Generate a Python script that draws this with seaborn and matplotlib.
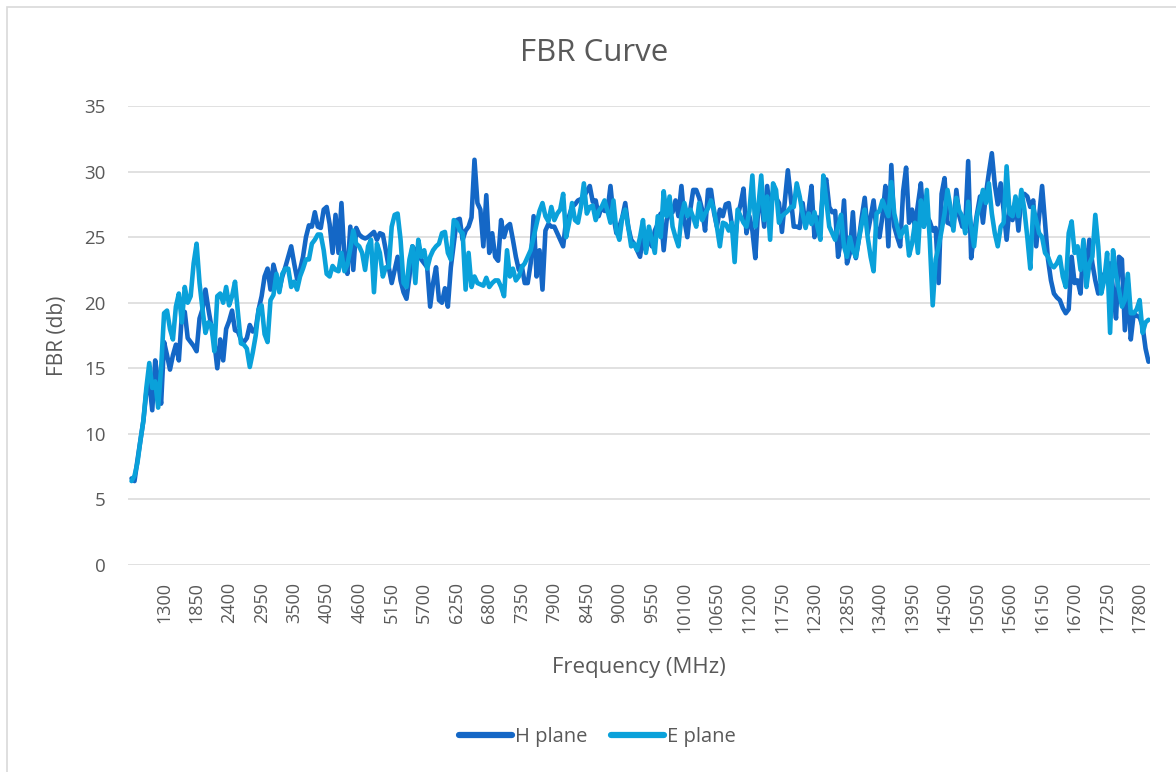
import numpy as np
import pandas as pd
import seaborn as sns
import matplotlib.pyplot as plt
from matplotlib.patches import Rectangle

# frequency categories (MHz), 50 MHz steps
freq = list(range(750, 18000, 50))

h_plane = [
    6.6, 6.4, 8.0, 9.5, 11.0, 13.2, 14.0, 11.8, 15.6, 14.0,
    12.3, 17.0, 16.0, 14.9, 16.0, 16.8, 15.6, 19.0, 19.3, 17.3,
    17.0, 16.7, 16.3, 18.8, 19.5, 21.0, 19.5, 18.2, 17.0, 15.0,
    17.2, 15.6, 18.0, 18.6, 19.4, 17.9, 17.8, 17.2, 17.0, 17.3,
    18.3, 17.8, 18.0, 19.5, 20.5, 22.0, 22.6, 21.0, 22.9, 22.0,
    21.0, 22.0, 22.7, 23.5, 24.3, 23.0, 21.8, 22.5, 23.5, 25.0,
    25.9, 25.8, 26.9, 25.8, 25.7, 27.1, 27.3, 26.0, 23.8, 26.7,
    23.8, 27.6, 23.5, 22.2, 25.8, 22.5, 25.7, 25.2, 25.0, 24.9,
    25.0, 25.2, 25.4, 24.8, 25.3, 25.2, 24.0, 22.7, 21.5, 22.5,
    23.5, 21.7, 20.8, 20.3, 22.0, 24.3, 24.0, 23.8, 23.3, 23.0,
    22.7, 19.7, 21.5, 22.7, 20.2, 20.0, 21.1, 19.7, 22.7, 24.5,
    26.3, 26.4, 24.8, 25.5, 25.8, 26.5, 30.9, 27.6, 27.1, 24.3,
    28.2, 23.8, 25.3, 23.5, 23.2, 26.3, 25.0, 25.8, 26.0, 24.8,
    23.5, 22.5, 22.8, 21.5, 21.5, 23.0, 26.6, 22.0, 24.0, 21.0,
    25.5, 26.0, 25.8, 25.8, 25.3, 24.8, 24.3, 26.3, 26.6, 27.3,
    27.5, 27.8, 27.9, 28.1, 28.5, 28.9, 27.7, 27.8, 26.6, 27.3,
    27.0, 27.0, 28.9, 26.6, 25.3, 25.8, 26.5, 27.6, 25.8, 24.8,
    24.5, 24.0, 23.5, 25.0, 24.0, 25.0, 24.3, 25.5, 26.0, 26.8,
    24.0, 26.3, 26.8, 26.9, 27.8, 26.6, 28.9, 26.3, 25.0, 27.1,
    28.6, 28.6, 28.0, 27.1, 25.5, 28.6, 28.6, 26.9, 25.8, 27.1,
    26.6, 27.5, 27.6, 26.0, 24.5, 26.6, 27.5, 28.7, 25.3, 26.6,
    25.5, 23.4, 27.3, 27.8, 25.8, 28.9, 27.0, 28.5, 28.0, 27.6,
    25.4, 27.8, 30.1, 28.0, 25.8, 25.8, 25.7, 27.6, 25.8, 27.0,
    28.9, 25.0, 26.5, 26.0, 28.9, 29.4, 27.3, 26.9, 27.0, 23.5,
    24.8, 27.8, 23.0, 23.8, 26.9, 23.4, 24.8, 26.5, 28.0, 25.3,
    26.5, 27.8, 25.5, 25.0, 26.6, 28.9, 24.3, 30.5, 25.8, 25.0,
    24.3, 28.5, 30.3, 26.1, 27.1, 25.8, 27.5, 29.1, 25.8, 26.6,
    26.2, 25.5, 25.7, 21.5, 28.3, 29.5, 26.1, 26.0, 25.8, 28.6,
    26.6, 25.8, 25.8, 30.8, 23.4, 25.3, 26.8, 28.1, 26.1, 28.3,
    29.9, 31.4, 29.0, 27.5, 29.1, 27.0, 24.8, 27.3, 26.3, 27.8,
    25.5, 28.1, 28.3, 28.1, 27.3, 27.8, 24.3, 26.6, 28.9, 26.1,
    23.3, 21.7, 20.7, 20.4, 20.2, 19.6, 19.2, 19.5, 23.5, 21.5,
    21.7, 20.7, 24.3, 22.7, 24.8, 23.0, 21.7, 20.7, 21.5, 22.2,
    21.7, 23.0, 21.0, 18.8, 23.5, 23.3, 17.9, 21.5, 17.2, 19.2,
    19.0, 18.9, 18.2, 16.5, 15.5,
]

e_plane = [
    6.4, 6.8, 7.8, 9.5, 11.0, 13.5, 15.4, 13.5, 14.0, 12.0,
    15.0, 19.2, 19.4, 18.0, 17.2, 19.7, 20.7, 18.5, 21.2, 20.0,
    20.5, 23.0, 24.5, 21.5, 19.5, 17.7, 18.5, 18.3, 16.3, 20.5,
    20.7, 20.0, 21.2, 19.8, 20.5, 21.6, 19.2, 16.9, 16.8, 16.5,
    15.1, 16.2, 17.5, 19.5, 19.8, 17.6, 17.0, 20.2, 20.6, 22.2,
    20.8, 22.2, 22.6, 22.6, 21.2, 21.6, 21.0, 22.0, 22.6, 23.3,
    23.3, 24.5, 24.8, 25.2, 25.2, 24.0, 22.2, 22.0, 22.8, 22.5,
    22.4, 23.8, 22.4, 22.9, 24.1, 25.5, 24.5, 24.3, 23.8, 22.5,
    24.3, 24.8, 20.8, 24.5, 23.8, 22.0, 22.7, 22.7, 25.8, 26.7,
    26.8, 24.8, 21.5, 21.2, 23.3, 24.3, 21.5, 24.8, 23.5, 24.0,
    22.6, 23.5, 24.0, 24.3, 24.5, 25.3, 25.4, 23.8, 23.3, 26.3,
    26.1, 25.5, 25.3, 21.0, 23.8, 21.2, 22.0, 21.5, 21.4, 21.3,
    21.9, 21.2, 21.5, 21.7, 21.7, 21.2, 20.5, 24.0, 22.0, 22.6,
    21.7, 22.0, 22.7, 23.0, 23.5, 24.0, 25.0, 26.0, 27.0, 27.6,
    26.6, 26.2, 27.3, 26.3, 26.8, 27.1, 28.3, 25.0, 26.1, 27.6,
    26.3, 26.1, 27.3, 29.1, 26.8, 27.3, 27.4, 26.3, 27.0, 27.3,
    27.8, 27.0, 26.1, 27.8, 25.5, 24.8, 26.5, 27.1, 25.8, 24.3,
    24.5, 24.0, 25.0, 26.3, 23.8, 25.8, 24.8, 23.8, 26.6, 25.0,
    28.5, 26.6, 28.1, 25.8, 25.0, 24.3, 26.6, 27.6, 26.6, 27.1,
    26.5, 25.8, 27.6, 26.3, 26.8, 27.2, 27.8, 27.1, 25.8, 24.3,
    26.1, 26.0, 25.5, 26.1, 23.1, 27.1, 26.6, 26.1, 25.8, 27.0,
    29.7, 25.8, 27.3, 29.7, 26.3, 28.1, 24.8, 29.1, 28.6, 26.1,
    26.6, 26.8, 27.0, 27.3, 27.3, 29.1, 28.1, 26.8, 25.7, 26.8,
    26.0, 26.9, 25.8, 24.8, 29.7, 27.8, 25.8, 25.3, 24.8, 25.8,
    26.7, 24.3, 23.5, 25.0, 24.0, 23.5, 24.8, 26.0, 27.1, 25.0,
    23.5, 22.4, 26.8, 27.0, 27.8, 27.2, 26.6, 29.2, 26.8, 25.8,
    25.0, 25.5, 25.8, 23.6, 24.5, 26.1, 23.8, 27.8, 25.8, 28.6,
    24.8, 19.8, 23.3, 24.3, 25.5, 26.8, 28.6, 27.3, 25.5, 28.0,
    27.0, 26.6, 25.3, 27.7, 25.8, 24.3, 26.6, 27.5, 28.6, 27.6,
    29.1, 26.8, 25.3, 24.3, 25.8, 26.1, 30.4, 26.8, 26.6, 28.1,
    26.6, 28.6, 27.1, 25.0, 22.6, 27.3, 26.3, 25.3, 25.0, 23.8,
    23.5, 22.9, 22.7, 23.0, 23.5, 22.0, 21.2, 25.3, 26.2, 23.8,
    24.3, 22.5, 24.8, 21.2, 23.0, 23.5, 26.7, 24.3, 20.7, 21.7,
    23.8, 17.7, 24.0, 22.2, 21.0, 19.7, 20.2, 22.2, 19.2, 19.2,
    19.5, 20.2, 17.7, 18.5, 18.7,
]

series = ["H plane", "E plane"]
colors = ["#1467C6", "#0AA1DA"]

n = len(freq)
df = pd.DataFrame({
    "idx": list(range(n)) * 2,
    "FBR": h_plane + e_plane,
    "plane": [series[0]] * n + [series[1]] * n,
})

sns.set_style("white")
plt.rcParams["font.family"] = ["Open Sans", "DejaVu Sans"]
grey = "#595959"

fig = plt.figure(figsize=(11.76, 7.72), dpi=100)
ax = fig.add_axes([128 / 1176, 1 - 565 / 772, 1022 / 1176, 459 / 772])

sns.lineplot(data=df, x="idx", y="FBR", hue="plane", palette=colors,
             linewidth=3.3, ax=ax, legend=False, solid_capstyle="round",
             solid_joinstyle="round", estimator=None, sort=False)

ax.set_xlim(-1.2, n - 0.5)
ax.set_ylim(0, 35)
ax.set_yticks(range(0, 36, 5))
ax.yaxis.grid(True, color="#D9D9D9", linewidth=1.1)
ax.set_axisbelow(True)
for s in ax.spines.values():
    s.set_visible(False)

tick_pos = list(range(11, n, 11))
ax.set_xticks(tick_pos)
ax.set_xticklabels([str(freq[i]) for i in tick_pos], rotation=90)
ax.tick_params(axis="x", length=0, pad=12, labelsize=13, colors=grey)
ax.tick_params(axis="y", length=0, pad=16, labelsize=13.5, colors=grey)

ax.set_xlabel("Frequency (MHz)", fontsize=16, color=grey, labelpad=17)
ax.set_ylabel("FBR (db)", fontsize=15, color=grey, labelpad=12)
fig.text(0.505, 1 - 53 / 772, "FBR Curve", ha="center", va="center",
         fontsize=22.5, color=grey)

handles = [plt.Line2D([], [], color=c, linewidth=4.5, solid_capstyle="round") for c in colors]
fig.legend(handles, series, loc="center", bbox_to_anchor=(0.508, 1 - 737 / 772),
           ncol=2, frameon=False, fontsize=14.5, handlelength=2.6,
           handletextpad=0.15, columnspacing=1.2, labelcolor=grey)

# chart frame
fig.add_artist(Rectangle((7 / 1176, -0.1), 1.2, 1.1 - 7 / 772, transform=fig.transFigure,
                         fill=False, edgecolor="#D9D9D9", linewidth=1.2))

fig.savefig("out.png", dpi=100)
